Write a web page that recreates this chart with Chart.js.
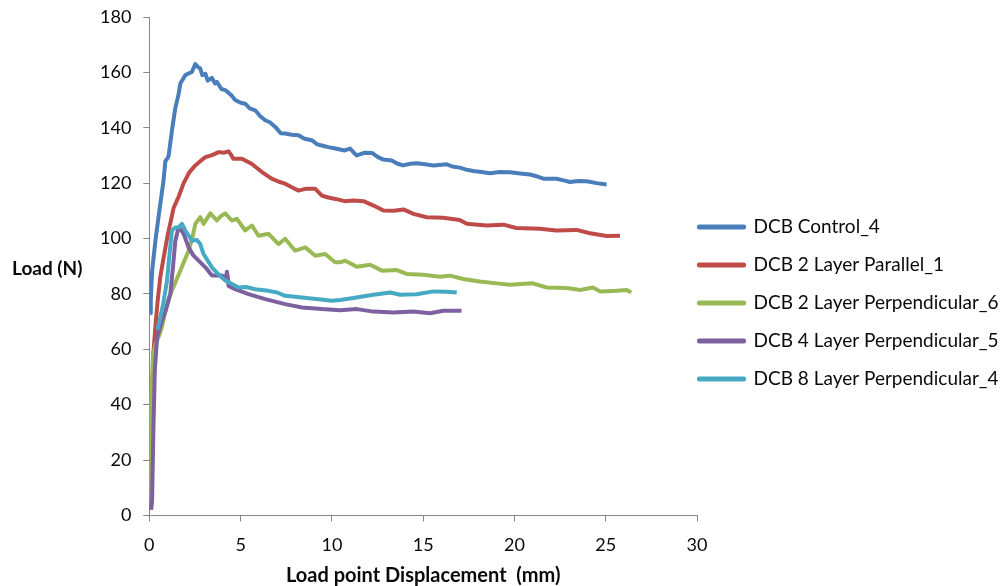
<!DOCTYPE html>
<html>
<head>
<meta charset="utf-8">
<script src="https://cdn.jsdelivr.net/npm/chart.js@4/dist/chart.umd.min.js"></script>
<style>
  html, body { margin: 0; padding: 0; background: #fff; }
  #wrap { width: 1008px; height: 586px; }
</style>
</head>
<body>
<div id="wrap"><canvas id="myChart" width="1008" height="586"></canvas></div>
<script>
// Axis titles and series names
let xTitle = "Load point Displacement  (mm)";
let yTitle = "Load (N)";
let seriesNames = [
  "DCB Control_4",
  "DCB 2 Layer Parallel_1",
  "DCB 2 Layer Perpendicular_6",
  "DCB 4 Layer Perpendicular_5",
  "DCB 8 Layer Perpendicular_4",
];
let seriesColors = ["#4a7ebb", "#be4b48", "#98b954", "#7d60a0", "#46aac5"];

// [displacement mm, load N]
let control4 = [
  [0.05, 73], [0.08, 78], [0.15, 88], [0.33, 99], [0.55, 110], [0.78, 121], [0.88, 128], [1.0, 129],
  [1.06, 130], [1.24, 139], [1.42, 147], [1.6, 152], [1.7, 156], [1.88, 158], [1.97, 159], [2.15, 159.6],
  [2.34, 160.2], [2.52, 163], [2.65, 162], [2.79, 161.4], [2.9, 159], [3.07, 159.5], [3.2, 157], [3.43, 158],
  [3.6, 156], [3.7, 156.6], [3.95, 154], [4.16, 153.6], [4.5, 151.7], [4.7, 150], [5.0, 149], [5.25, 148.7],
  [5.5, 147], [5.8, 146.3], [6.1, 144], [6.35, 142.7], [6.6, 142], [6.9, 140.3], [7.2, 138], [7.44, 137.9],
  [7.8, 137.5], [8.17, 137.3], [8.5, 136], [8.9, 135.5], [9.2, 134], [9.45, 133.6], [9.8, 133], [10.2, 132.5],
  [10.7, 131.8], [11.0, 132.5], [11.2, 131], [11.37, 130], [11.8, 131], [12.2, 130.9], [12.5, 129.5],
  [12.82, 128.5], [13.28, 128.2], [13.6, 127], [13.9, 126.4], [14.3, 127], [14.65, 127.2], [15.1, 126.8],
  [15.56, 126.4], [16.3, 126.8], [16.6, 126], [17.0, 125.6], [17.4, 124.8], [17.75, 124.4], [18.2, 124],
  [18.66, 123.6], [19.2, 124], [19.76, 123.9], [20.3, 123.5], [20.85, 123.1], [21.2, 122.5], [21.58, 121.6],
  [22.3, 121.6], [22.7, 121], [23.04, 120.4], [23.5, 120.8], [23.96, 120.7], [24.5, 120], [25.05, 119.5],
];
let parallel1 = [
  [0.2, 58], [0.24, 60], [0.33, 68], [0.45, 77], [0.6, 86], [0.78, 93], [1.0, 101], [1.33, 111], [1.6, 115],
  [1.88, 120], [2.2, 124], [2.52, 126.4], [2.8, 128], [3.07, 129.4], [3.4, 130], [3.8, 131.2], [4.1, 131],
  [4.34, 131.5], [4.5, 130], [4.6, 128.8], [5.07, 128.8], [5.6, 127], [6.17, 124], [6.7, 121.6], [7.1, 120.5],
  [7.44, 119.8], [7.8, 118.5], [8.17, 117.3], [8.6, 118], [9.08, 118], [9.45, 115.5], [9.8, 114.8],
  [10.2, 114.3], [10.7, 113.5], [11.18, 113.7], [11.73, 113.5], [12.28, 111.9], [12.82, 110.1], [13.4, 110],
  [13.92, 110.5], [14.47, 108.9], [15.2, 107.7], [16.1, 107.5], [17.0, 106.7], [17.39, 105.3], [18.48, 104.7],
  [19.4, 105], [20.1, 103.8], [21.4, 103.5], [22.3, 102.9], [23.4, 103.1], [24.14, 101.9], [25.05, 100.9],
  [25.78, 101],
];
let perp6 = [
  [0.0, 8], [0.05, 25], [0.1, 42], [0.2, 58], [0.35, 62], [0.51, 64.5], [0.69, 68], [0.88, 74], [1.1, 79],
  [1.42, 84], [1.8, 90], [2.15, 95.6], [2.35, 100], [2.52, 105.3], [2.79, 107.7], [2.97, 105.3], [3.34, 109.1],
  [3.7, 106.5], [3.9, 108], [4.16, 109.1], [4.52, 106.5], [4.8, 107.1], [5.25, 102.9], [5.62, 104.7],
  [5.98, 101], [6.53, 101.7], [7.08, 98], [7.44, 99.9], [7.99, 95.6], [8.54, 96.8], [9.09, 93.8], [9.63, 94.4],
  [10.18, 91.4], [10.45, 91.4], [10.73, 92], [11.37, 89.8], [12.1, 90.5], [12.74, 88.4], [13.56, 88.6],
  [14.1, 87.2], [15.0, 86.9], [15.93, 86.2], [16.47, 86.6], [17.2, 85.4], [18.1, 84.5], [19.03, 83.8],
  [19.76, 83.3], [21.0, 83.8], [21.77, 82.3], [22.86, 82.1], [23.6, 81.4], [24.3, 82.3], [24.7, 80.9],
  [25.6, 81.1], [26.15, 81.4], [26.4, 80.5],
];
let perp5 = [
  [0.1, 2], [0.15, 5], [0.22, 30], [0.3, 52], [0.42, 64], [0.6, 68.5], [0.9, 74], [1.15, 80], [1.3, 90],
  [1.42, 99], [1.6, 104], [1.75, 103], [1.88, 101.7], [2.15, 96.8], [2.4, 94], [2.7, 92], [3.07, 89.6],
  [3.43, 86.6], [3.98, 86.6], [4.2, 86], [4.25, 88], [4.3, 86], [4.34, 82.9], [4.7, 81.7], [5.44, 79.9],
  [6.35, 78.1], [7.44, 76.3], [8.36, 75.1], [9.45, 74.5], [10.45, 74.1], [11.37, 74.5], [12.28, 73.6],
  [13.37, 73.3], [14.47, 73.6], [15.38, 73.0], [16.1, 73.9], [17.1, 73.9],
];
let perp4 = [
  [0.45, 67], [0.51, 69], [0.75, 76], [0.97, 84.8], [1.1, 94], [1.24, 102.9], [1.42, 104], [1.6, 104],
  [1.79, 105.3], [1.97, 102.9], [2.34, 99.2], [2.6, 99.5], [2.79, 98], [2.97, 94.4], [3.43, 89.6], [3.8, 87],
  [4.16, 84.8], [4.89, 82.3], [5.3, 82.5], [5.8, 81.7], [6.53, 81.1], [7.0, 80.5], [7.44, 79.3], [8.36, 78.7],
  [9.27, 78.1], [10.0, 77.5], [10.45, 77.8], [11.18, 78.5], [12.28, 79.7], [13.19, 80.5], [13.74, 79.7],
  [14.65, 79.9], [15.56, 80.9], [16.29, 80.8], [16.84, 80.5],
];
let allSeries = [control4, parallel1, perp6, perp5, perp4];

let axisColor = "#868686";
let textColor = "#0a0a0a";
let fontFamily = "Lato, 'Open Sans', sans-serif";

// y title is horizontal in the original, so draw it by hand
const yTitlePlugin = {
  id: "yTitle",
  afterLayout(chart) {
    // keep the plot width but start the legend lines right next to the axis end
    chart.legend.left -= 17;
  },
  afterDraw(chart) {
    const ctx = chart.ctx;
    const area = chart.chartArea;
    ctx.save();
    ctx.font = "bold 19px " + fontFamily;
    ctx.fillStyle = textColor;
    ctx.textBaseline = "middle";
    ctx.textAlign = "left";
    ctx.fillText(yTitle, 12, (area.top + area.bottom) / 2 + 3);
    ctx.restore();
  },
};

const datasets = allSeries.map((points, i) => {
  return {
    label: seriesNames[i],
    data: points.map((p) => ({ x: p[0], y: p[1] })),
    borderColor: seriesColors[i],
    backgroundColor: seriesColors[i],
    borderWidth: 4,
    borderJoinStyle: "round",
    showLine: true,
    pointRadius: 0,
    tension: 0,
    order: allSeries.length - i,
  };
});

let myChart = new Chart(document.getElementById("myChart"), {
  type: "scatter",
  data: { datasets },
  plugins: [yTitlePlugin],
  options: {
    responsive: false,
    animation: false,
    layout: { padding: { left: 88, top: 17, right: 0, bottom: -3 } },
    plugins: {
      tooltip: { enabled: false },
      legend: {
        position: "right",
        maxWidth: 311,
        labels: {
          boxWidth: 45,
          boxHeight: 1,
          padding: 19,
          color: textColor,
          font: { family: fontFamily, size: 19 },
          sort: (a, b) => a.datasetIndex - b.datasetIndex,
        },
      },
    },
    scales: {
      x: {
        type: "linear",
        min: 0,
        max: 30,
        ticks: { stepSize: 5, color: textColor, padding: 13, font: { family: fontFamily, size: 18 } },
        grid: { drawOnChartArea: false, drawTicks: true, tickLength: 6, color: axisColor },
        border: { color: axisColor, width: 1 },
        title: {
          display: true,
          text: xTitle,
          color: textColor,
          font: { family: fontFamily, size: 20, weight: "bold" },
          padding: { top: -5, bottom: 1 },
        },
      },
      y: {
        min: 0,
        max: 180,
        ticks: { stepSize: 20, color: textColor, padding: 12, font: { family: fontFamily, size: 18 } },
        grid: { drawOnChartArea: false, drawTicks: true, tickLength: 6, color: axisColor },
        border: { color: axisColor, width: 1 },
        afterFit: (scale) => {
          scale.paddingTop = 0;
        },
      },
    },
  },
});
</script>
</body>
</html>
